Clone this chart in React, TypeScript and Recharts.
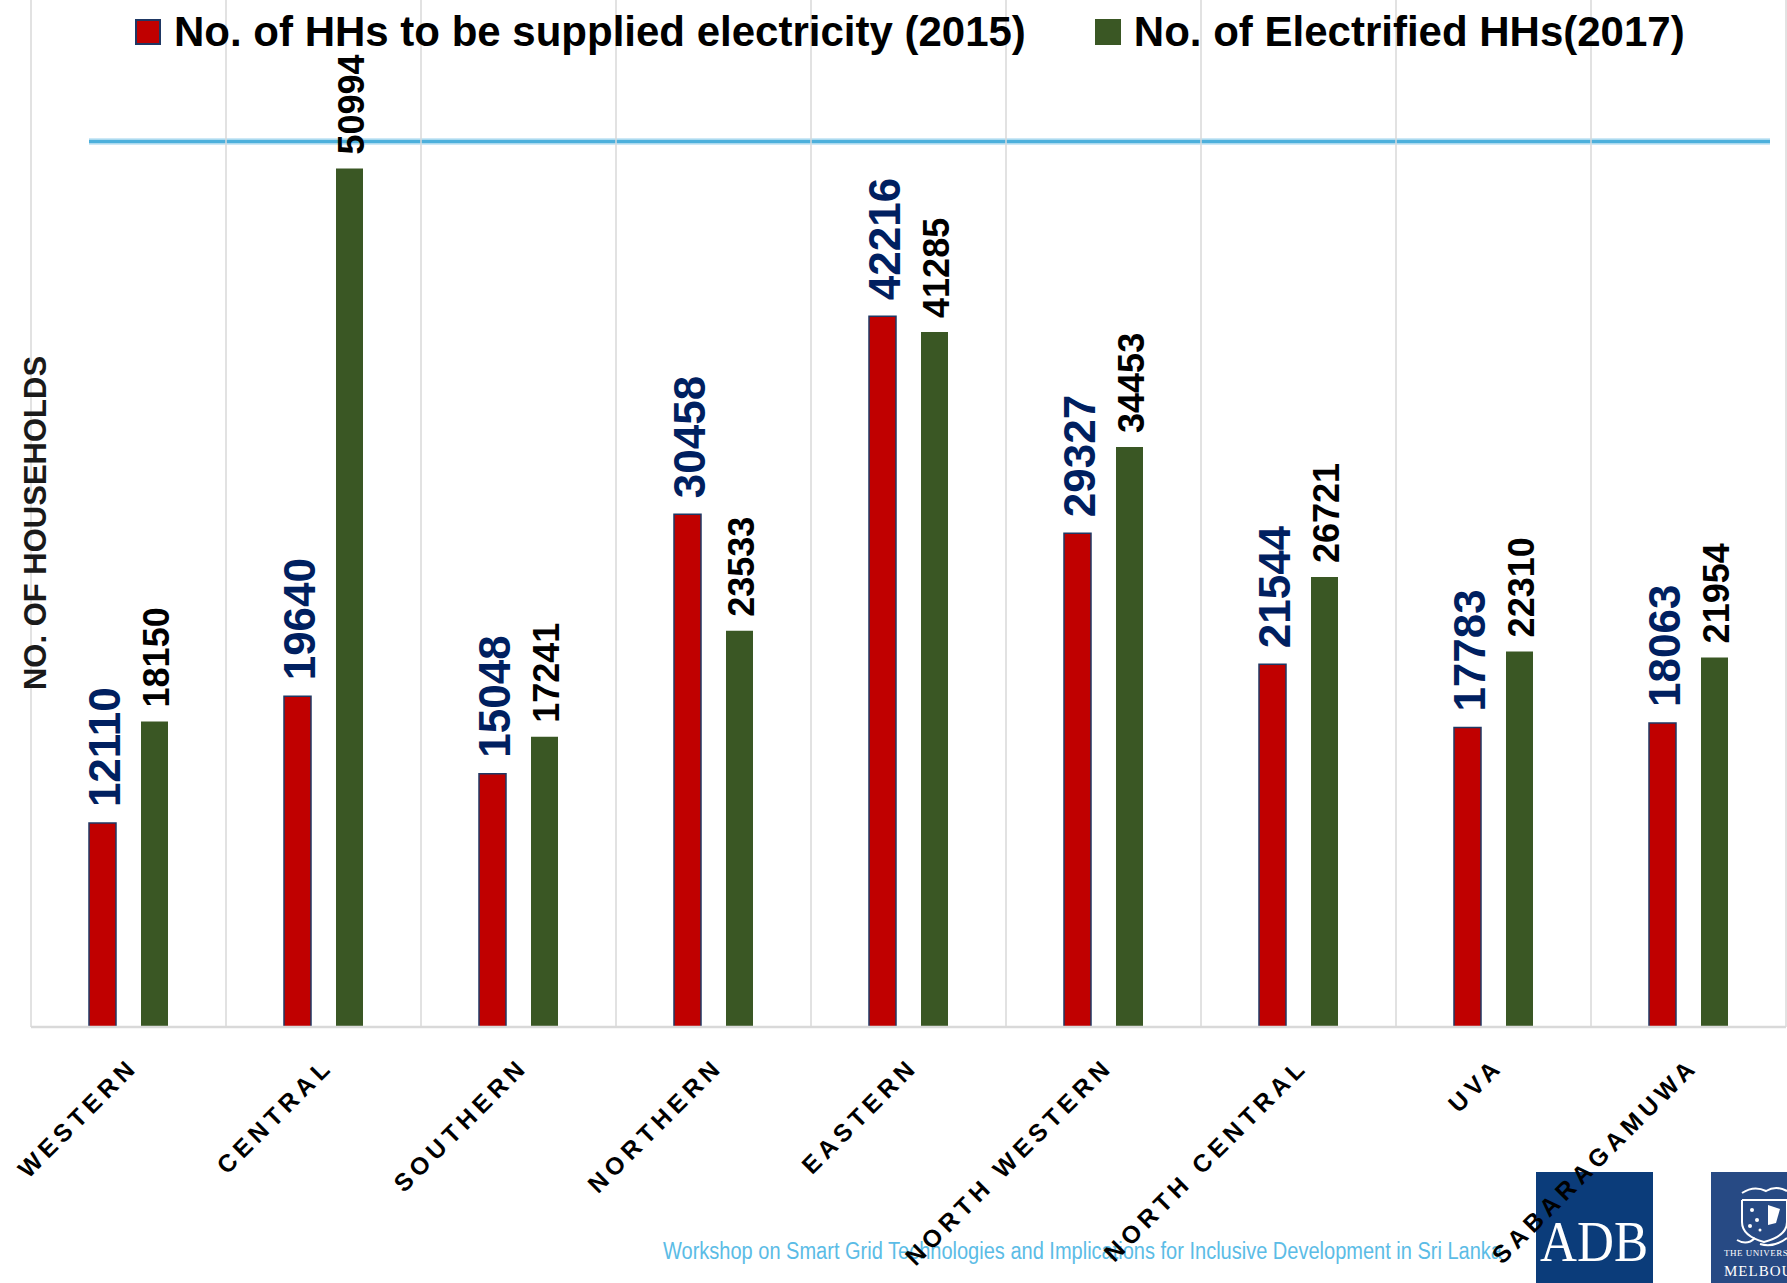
import React from 'react';
import { BarChart, Bar, XAxis, YAxis, CartesianGrid, Legend, LabelList } from 'recharts';

// Provinces of Sri Lanka and household electrification counts
const regions = [
  'WESTERN',
  'CENTRAL',
  'SOUTHERN',
  'NORTHERN',
  'EASTERN',
  'NORTH WESTERN',
  'NORTH CENTRAL',
  'UVA',
  'SABARAGAMUWA',
];
const toBeSupplied2015 = [12110, 19640, 15048, 30458, 42216, 29327, 21544, 17783, 18063];
const electrified2017 = [18150, 50994, 17241, 23533, 41285, 34453, 26721, 22310, 21954];
const seriesNames = ['No. of HHs to be supplied electricity (2015)', 'No. of Electrified HHs(2017)'];
const yAxisTitle = 'NO. OF HOUSEHOLDS';
const footerText =
  'Workshop on Smart Grid Technologies and Implications for Inclusive Development in Sri Lanka';
const yDomainMax = 61000;

const data = regions.map((region, i) => ({
  region,
  supplied: toBeSupplied2015[i],
  electrified: electrified2017[i],
}));

const FONT = '"Liberation Sans", Arial, sans-serif';
const RED = '#C00000';
const RED_EDGE = '#1F3864';
const GREEN = '#3A5724';
const NAVY_LABEL = '#002060';
const GRID = '#d9d9d9';

const W = 1787;
const H = 1283;

// Vertical value label sitting above each bar
const makeBarLabel = (color: string, fontSize: number, gap: number, dy: number) => (props: any) => {
  const vb = props.viewBox || {};
  const bx = Number(vb.x ?? props.x);
  const by = Number(vb.y ?? props.y);
  const bw = Number(vb.width ?? props.width);
  const cx = bx + bw / 2;
  const ty = by - gap;
  return (
    <text
      x={cx}
      y={ty}
      dy={dy}
      transform={`rotate(-90 ${cx} ${ty})`}
      textAnchor="start"
      fill={color}
      fontSize={fontSize}
      fontWeight="bold"
      fontFamily={FONT}
    >
      {props.value}
    </text>
  );
};

const suppliedLabel = makeBarLabel(NAVY_LABEL, 44, 16, 18);
const electrifiedLabel = makeBarLabel('#000000', 36, 14, 14.5);

// Slanted province names under the axis
const RegionTick = (props: any) => {
  const { x, y, payload } = props;
  const ax = x + 11;
  const ay = y + 33;
  return (
    <text
      x={ax}
      y={ay}
      transform={`rotate(-45 ${ax} ${ay})`}
      textAnchor="end"
      fontSize={24.5}
      fontWeight="bold"
      letterSpacing={5}
      fill="#000"
      fontFamily={FONT}
    >
      {payload.value}
    </text>
  );
};

const LegendContent = (props: any) => {
  const items = [...(props.payload || [])].sort(
    (a: any, b: any) => seriesNames.indexOf(a.value) - seriesNames.indexOf(b.value)
  );
  return (
    <div
      style={{
        display: 'flex',
        alignItems: 'center',
        paddingLeft: 135,
        paddingTop: 11,
        fontFamily: FONT,
        fontWeight: 'bold',
        fontSize: 42,
        lineHeight: '42px',
        color: '#000',
        whiteSpace: 'nowrap',
      }}
    >
      {items.map((entry: any, i: number) => (
        <div key={i} style={{ display: 'flex', alignItems: 'center', marginRight: 69 }}>
          <span
            style={{
              display: 'inline-block',
              width: 26,
              height: 26,
              boxSizing: 'border-box',
              background: entry.color,
              border: entry.payload?.stroke ? `2px solid ${entry.payload.stroke}` : 'none',
              marginRight: 13,
            }}
          />
          <span>{entry.value}</span>
        </div>
      ))}
    </div>
  );
};

// Slide decorations drawn behind the chart: accent rule, footer and partner logos
const Backdrop = () => (
  <svg width={W} height={H} style={{ position: 'absolute', left: 0, top: 0 }}>
    <line x1={89} y1={141.5} x2={1770} y2={141.5} stroke="#9ad3ee" strokeWidth={7} opacity={0.5} />
    <line x1={89} y1={141.5} x2={1770} y2={141.5} stroke="#4DB0DC" strokeWidth={3.5} />
    <text
      x={663}
      y={1259}
      fontSize={23}
      fontFamily={FONT}
      fill="#5BBCE6"
      textLength={839}
      lengthAdjust="spacingAndGlyphs"
    >
      {footerText}
    </text>
    {/* ADB */}
    <rect x={1536} y={1172} width={117} height={111} fill="#0B3C7A" />
    <text
      x={1540}
      y={1261}
      fontSize={56}
      fontFamily='"Liberation Serif", "Times New Roman", serif'
      fill="#ffffff"
      textLength={108}
      lengthAdjust="spacingAndGlyphs"
    >
      ADB
    </text>
    {/* University of Melbourne */}
    <rect x={1711} y={1172} width={76} height={111} fill="#274A84" />
    <g stroke="#ffffff" strokeWidth={2} fill="none">
      <path d="M1742 1193 q12 -8 24 -2 q10 -6 21 0" />
      <path d="M1742 1200 h45" />
      <path d="M1742 1200 v22 q0 14 22 20 q23 -6 23 -20 v-22" />
      <path d="M1737 1240 q10 6 18 -2 M1760 1244 q14 4 27 -6" />
    </g>
    <g fill="#ffffff">
      <circle cx={1752} cy={1210} r={2} />
      <circle cx={1757} cy={1220} r={2} />
      <circle cx={1750} cy={1226} r={2} />
      <circle cx={1760} cy={1230} r={1.5} />
      <path d="M1768 1205 l12 4 l-4 14 l-8 2 z" />
    </g>
    <text x={1724} y={1256} fontSize={9} fontFamily='"Liberation Serif", serif' fill="#ffffff" letterSpacing={0.5}>
      THE UNIVERSITY OF
    </text>
    <text x={1724} y={1276} fontSize={15} fontFamily='"Liberation Serif", serif' fill="#ffffff" letterSpacing={1}>
      MELBOURNE
    </text>
  </svg>
);

export default function App() {
  return (
    <div style={{ position: 'relative', width: W, height: H, background: '#ffffff', overflow: 'hidden' }}>
      <style>{'body{margin:0}'}</style>
      <Backdrop />
      <div style={{ position: 'absolute', left: 0, top: 0 }}>
        <BarChart
          width={W}
          height={H}
          data={data}
          margin={{ top: 0, right: 1, bottom: 0, left: 31 }}
          barSize={27}
          barGap={25}
        >
          <CartesianGrid
            horizontal={false}
            stroke={GRID}
            strokeWidth={1.5}
            verticalCoordinatesGenerator={({ offset }: any) =>
              Array.from({ length: regions.length + 1 }, (_, i) => offset.left + (i * offset.width) / regions.length)
            }
          />
          <XAxis
            dataKey="region"
            height={256}
            interval={0}
            tickLine={false}
            axisLine={{ stroke: GRID, strokeWidth: 2.5 }}
            tick={<RegionTick />}
          />
          <YAxis hide domain={[0, yDomainMax]} />
          <Legend
            layout="horizontal"
            verticalAlign="middle"
            align="center"
            wrapperStyle={{ top: 0, left: 0, width: W }}
            content={<LegendContent />}
          />
          <Bar
            dataKey="supplied"
            name={seriesNames[0]}
            fill={RED}
            stroke={RED_EDGE}
            strokeWidth={1.5}
            isAnimationActive={false}
          >
            <LabelList dataKey="supplied" content={suppliedLabel} />
          </Bar>
          <Bar dataKey="electrified" name={seriesNames[1]} fill={GREEN} isAnimationActive={false}>
            <LabelList dataKey="electrified" content={electrifiedLabel} />
          </Bar>
        </BarChart>
      </div>
      <svg width={80} height={400} style={{ position: 'absolute', left: 0, top: 323 }}>
        <text
          x={46}
          y={200}
          transform="rotate(-90 46 200)"
          textAnchor="middle"
          fontSize={31}
          fontWeight="bold"
          fontFamily={FONT}
          fill="#1a1a1a"
        >
          {yAxisTitle}
        </text>
      </svg>
    </div>
  );
}
